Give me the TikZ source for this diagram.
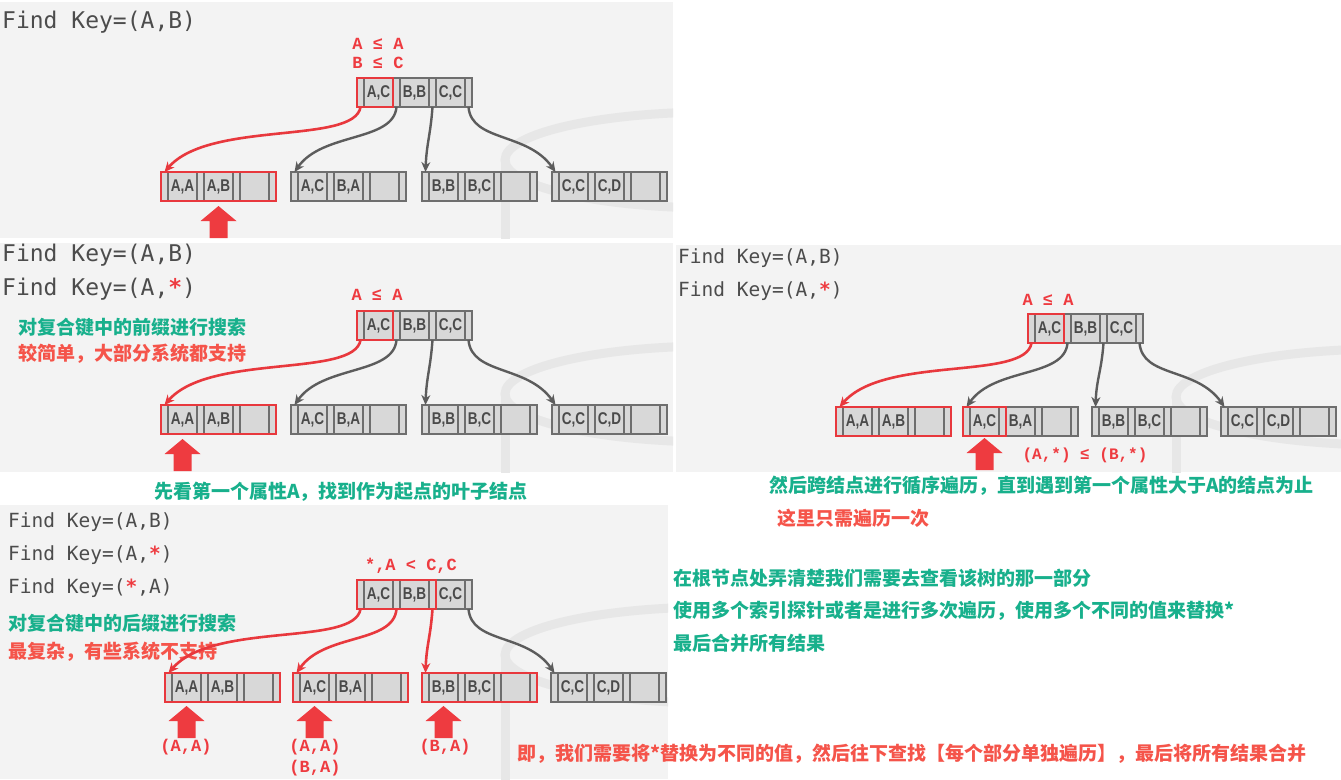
\documentclass[tikz,border=0pt]{standalone}
\usepackage{fontspec}
\setmainfont{Liberation Sans}
\newfontfamily\monofont{Liberation Mono}
\newfontfamily\findfont{DejaVu Sans Mono}
\newfontfamily\keyfont[FakeStretch=0.8]{Liberation Sans}
\newfontfamily\cjk{Noto Sans CJK SC}
\usetikzlibrary{positioning,arrows.meta}

\definecolor{panelbg}{HTML}{F3F3F3}
\definecolor{wmgray}{HTML}{E7E7E7}
\definecolor{cellfill}{HTML}{D8D8D8}
\definecolor{celldraw}{HTML}{6E6E6E}
\definecolor{keytext}{HTML}{4A4A4A}
\definecolor{findgray}{HTML}{4C4C4C}
\definecolor{linkgray}{HTML}{5C5C5C}
\definecolor{hlred}{HTML}{E8383D}
\definecolor{keyred}{HTML}{EE3B40}
\definecolor{notegreen}{RGB}{24,176,140}
\definecolor{notered}{RGB}{245,84,74}

\tikzset{
  ptr/.style={rectangle, draw=celldraw, fill=cellfill, line width=1.3pt,
    minimum width=7pt, minimum height=29pt, inner sep=0pt, outer sep=0pt},
  keycell/.style={ptr, minimum width=29pt, text=keytext,
    font=\keyfont\bfseries\fontsize{17}{17}\selectfont},
  findkey/.style={anchor=west, inner sep=0pt, text=findgray,
    font=\findfont\fontsize{23}{23}\selectfont},
  findsmall/.style={findkey, font=\findfont\fontsize{19.5}{19.5}\selectfont},
  cond/.style={inner sep=0pt, text=keyred, font=\monofont\bfseries\fontsize{17}{17}\selectfont},
  note/.style={anchor=west, inner sep=0pt, font=\cjk\bfseries\fontsize{19}{19}\selectfont},
  greennote/.style={note, text=notegreen},
  rednote/.style={note, text=notered},
  hilite/.style={draw=hlred, line width=1.8pt},
  redlink/.style={draw=hlred, line width=2.6pt, -{Stealth[length=10pt,width=9pt]}},
  graylink/.style={draw=linkgray, line width=2.4pt, -{Stealth[length=10pt,width=9pt]}},
  uparrow/.pic={\fill[keyred] (-9,32) -- (-9,15) -- (-18,15) -- (0,0) -- (18,15) -- (9,15) -- (9,32) -- cycle;},
  dbmark/.pic={
    \draw[wmgray, line width=9pt] (0,0) ellipse [x radius=210, y radius=48];
    \draw[wmgray, line width=9pt] (-210,0) -- (-210,150);
  }
}

% one B+tree node: name, top left corner, three keys
\newcommand{\treenode}[5]{
  \node[ptr, anchor=north west] (#1p0) at (#2) {};
  \node[keycell, right=0pt of #1p0] (#1k1) {#3};
  \node[ptr, right=0pt of #1k1] (#1p1) {};
  \node[keycell, right=0pt of #1p1] (#1k2) {#4};
  \node[ptr, right=0pt of #1k2] (#1p2) {};
  \node[keycell, right=0pt of #1p2] (#1k3) {#5};
  \node[ptr, right=0pt of #1k3] (#1p3) {};
}
\newcommand{\redstar}{{\color{keyred}\bfseries*}}

\begin{document}
\begin{tikzpicture}[x=1pt, y=-1pt]
\useasboundingbox (0,0) rectangle (1341,779);
\fill[white] (0,0) rectangle (1341,779);

% panels
\fill[panelbg] (0,2) rectangle (673,238);
\fill[panelbg] (0,243) rectangle (673,472);
\fill[panelbg] (676,245) rectangle (1341,472);
\fill[panelbg] (0,505) rectangle (668,779);
\begin{scope}
\clip (0,2) rectangle (673,238);
\pic at (715,160) {dbmark};
\end{scope}
\begin{scope}
\clip (0,243) rectangle (673,472);
\pic at (715,394) {dbmark};
\end{scope}
\begin{scope}
\clip (676,245) rectangle (1341,472);
\pic at (1386,397) {dbmark};
\end{scope}
\begin{scope}
\clip (0,505) rectangle (668,779);
\pic at (715,655) {dbmark};
\end{scope}

% panel 1
\node[findkey] (find1a) at (2,22) {Find Key=(A,B)};
\node[cond] (cond1a) at (378,44) {A ≤ A};
\node[cond] (cond1b) at (378,63) {B ≤ C};

\treenode{root1}{357,78}{A,C}{B,B}{C,C}
\treenode{leaf1a}{161,172}{A,A}{A,B}{}
\treenode{leaf1b}{291,172}{A,C}{B,A}{}
\treenode{leaf1c}{422,172}{B,B}{B,C}{}
\treenode{leaf1d}{552,172}{C,C}{C,D}{}

\draw[redlink] (root1p0.south) .. controls +(-6,38) and +(45,-52) .. (leaf1ap0.north);
\draw[graylink] (root1p1.south) .. controls +(-3,35) and +(28,-40) .. (leaf1bp0.north);
\draw[graylink] (root1p2.south) .. controls +(-2,28) and +(1,-28) .. (leaf1cp0.north);
\draw[graylink] (root1p3.south) .. controls +(3,35) and +(-28,-40) .. (leaf1dp0.north);
\draw[hilite] (root1p0.north west) rectangle (root1k1.south east);
\draw[hilite] (leaf1ap0.north west) rectangle (leaf1ap3.south east);
\path (leaf1ak2.south) ++(0,5) pic {uparrow};

% panel 2
\node[findkey] (find2a) at (2,255) {Find Key=(A,B)};
\node[findkey] (find2b) at (2,289) {Find Key=(A,\redstar)};
\node[cond] (cond2a) at (377,295) {A ≤ A};
\node[greennote] (note2a) at (18,327) {对复合键中的前缀进行搜索};
\node[rednote] (note2b) at (18,354) {较简单，大部分系统都支持};
\node[greennote, anchor=center] (note2c) at (341,492) {先看第一个属性A，找到作为起点的叶子结点};

\treenode{root2}{357,311}{A,C}{B,B}{C,C}
\treenode{leaf2a}{161,405}{A,A}{A,B}{}
\treenode{leaf2b}{291,405}{A,C}{B,A}{}
\treenode{leaf2c}{422,405}{B,B}{B,C}{}
\treenode{leaf2d}{552,405}{C,C}{C,D}{}

\draw[redlink] (root2p0.south) .. controls +(-6,38) and +(45,-52) .. (leaf2ap0.north);
\draw[graylink] (root2p1.south) .. controls +(-3,35) and +(28,-40) .. (leaf2bp0.north);
\draw[graylink] (root2p2.south) .. controls +(-2,28) and +(1,-28) .. (leaf2cp0.north);
\draw[graylink] (root2p3.south) .. controls +(3,35) and +(-28,-40) .. (leaf2dp0.north);
\draw[hilite] (root2p0.north west) rectangle (root2k1.south east);
\draw[hilite] (leaf2ap0.north west) rectangle (leaf2ap3.south east);
\path (leaf2ak1.south) ++(0,5) pic {uparrow};

% panel 3
\node[findsmall] (find3a) at (678,258) {Find Key=(A,B)};
\node[findsmall] (find3b) at (678,291) {Find Key=(A,\redstar)};
\node[cond] (cond3a) at (1048,300) {A ≤ A};
\node[cond, font=\monofont\bfseries\fontsize{16}{16}\selectfont] (cond3b) at (1085,455) {(A,*) ≤ (B,*)};
\node[greennote] (note3a) at (769,486) {然后跨结点进行循序遍历，直到遇到第一个属性大于A的结点为止};
\node[rednote] (note3b) at (777,518) {这里只需遍历一次};

\treenode{root3}{1028,314}{A,C}{B,B}{C,C}
\treenode{leaf3a}{836,407}{A,A}{A,B}{}
\treenode{leaf3b}{963,407}{A,C}{B,A}{}
\treenode{leaf3c}{1092,407}{B,B}{B,C}{}
\treenode{leaf3d}{1221,407}{C,C}{C,D}{}

\draw[redlink] (root3p0.south) .. controls +(-6,38) and +(45,-52) .. (leaf3ap0.north);
\draw[graylink] (root3p1.south) .. controls +(-3,35) and +(28,-40) .. (leaf3bp0.north);
\draw[graylink] (root3p2.south) .. controls +(-2,28) and +(1,-28) .. (leaf3cp0.north);
\draw[graylink] (root3p3.south) .. controls +(3,35) and +(-28,-40) .. (leaf3dp0.north);
\draw[hilite] (root3p0.north west) rectangle (root3k1.south east);
\draw[hilite] (leaf3ap0.north west) rectangle (leaf3ap3.south east);
\draw[hilite] (leaf3bp0.north west) rectangle (leaf3bp1.south east);
\path (leaf3bk1.south) ++(0,2) pic {uparrow};

% panel 4
\node[findsmall] (find4a) at (8,522) {Find Key=(A,B)};
\node[findsmall] (find4b) at (8,555) {Find Key=(A,\redstar)};
\node[findsmall] (find4c) at (8,588) {Find Key=(\redstar,A)};
\node[cond] (cond4a) at (411,566) {*,A < C,C};
\node[greennote] (note4a) at (8,623) {对复合键中的后缀进行搜索};
\node[rednote] (note4b) at (8,652) {最复杂，有些系统不支持};

\treenode{root4}{357,580}{A,C}{B,B}{C,C}
\treenode{leaf4a}{165,673}{A,A}{A,B}{}
\treenode{leaf4b}{293,673}{A,C}{B,A}{}
\treenode{leaf4c}{422,673}{B,B}{B,C}{}
\treenode{leaf4d}{551,673}{C,C}{C,D}{}

\draw[redlink] (root4p0.south) .. controls +(-6,38) and +(45,-52) .. (leaf4ap0.north);
\draw[redlink] (root4p1.south) .. controls +(-3,35) and +(28,-40) .. (leaf4bp0.north);
\draw[redlink] (root4p2.south) .. controls +(-2,28) and +(1,-28) .. (leaf4cp0.north);
\draw[graylink] (root4p3.south) .. controls +(3,35) and +(-28,-40) .. (leaf4dp0.north);
\draw[hilite] (root4p0.north west) rectangle (root4p2.south east);
\draw[hilite] (leaf4ap0.north west) rectangle (leaf4ap3.south east);
\draw[hilite] (leaf4bp0.north west) rectangle (leaf4bp3.south east);
\draw[hilite] (leaf4cp0.north west) rectangle (leaf4cp3.south east);
\path (leaf4ak1.south) ++(0,4) pic {uparrow};
\path (leaf4bk1.south) ++(0,4) pic {uparrow};
\path (leaf4ck1.south) ++(0,4) pic {uparrow};
\node[cond] (res4a) at (186,747) {(A,A)};
\node[cond] (res4b) at (315,747) {(A,A)};
\node[cond] (res4c) at (315,768) {(B,A)};
\node[cond] (res4d) at (445,747) {(B,A)};

% notes on the right
\node[greennote] (note5a) at (673,578) {在根节点处弄清楚我们需要去查看该树的那一部分};
\node[greennote] (note5b) at (673,611) {使用多个索引探针或者是进行多次遍历，使用多个不同的值来替换*};
\node[greennote] (note5c) at (673,643) {最后合并所有结果};
\node[rednote] (note5d) at (517,754) {即，我们需要将*替换为不同的值，然后往下查找【每个部分单独遍历】，最后将所有结果合并};
\end{tikzpicture}
\end{document}
